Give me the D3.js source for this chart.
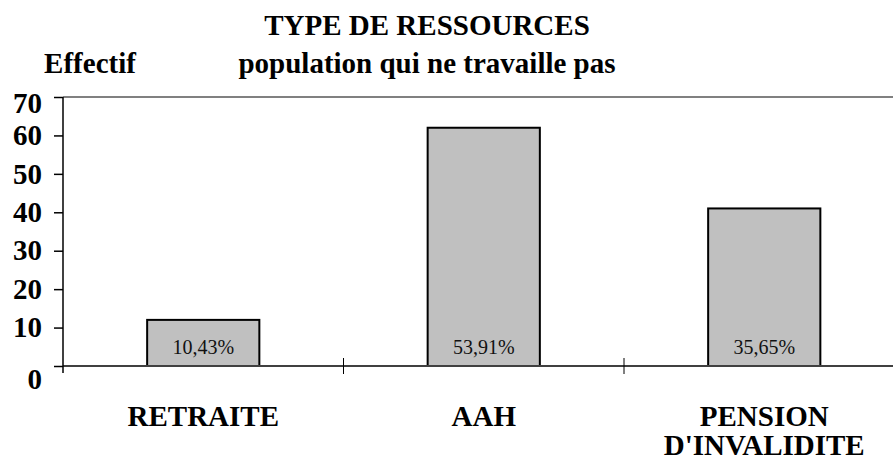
<!DOCTYPE html>
<html>
<head>
<meta charset="utf-8">
<script src="https://cdn.jsdelivr.net/npm/d3@7"></script>
<style>
  body { margin: 0; background: #fff; }
</style>
</head>
<body>
<svg id="chart" width="893" height="466"></svg>
<script>
const categories = [["RETRAITE"], ["AAH"], ["PENSION", "D'INVALIDITE"]];
const values = [12, 62, 41];
const pct_labels = ["10,43%", "53,91%", "35,65%"];
const y_ticks = [0, 10, 20, 30, 40, 50, 60, 70];

const serif = "Liberation Serif";
const big = "29px";
const left = 63;
const base_y = 366;
const top_y = 97;

const svg = d3.select("#chart").style("font-family", serif);

const x = d3.scaleBand()
    .domain(d3.range(categories.length))
    .range([left, 904.5])
    .padding(0);
const y = d3.scaleLinear()
    .domain([0, 70])
    .range([base_y, top_y]);

// titles
function bold_text(tx, ty, str) {
    return svg.append("text")
        .attr("x", tx).attr("y", ty)
        .attr("text-anchor", "middle")
        .style("font-family", serif)
        .style("font-weight", "bold")
        .style("font-size", big)
        .text(str);
}
bold_text(427, 35, "TYPE DE RESSOURCES");
bold_text(427, 73, "population qui ne travaille pas");
bold_text(90, 73, "Effectif");

// top frame line
svg.append("line")
    .attr("x1", left).attr("x2", 893)
    .attr("y1", y(70)).attr("y2", y(70))
    .attr("stroke", "#808080")
    .attr("stroke-width", 2);

// bars
const bw = x.bandwidth() * 0.4;
svg.selectAll("rect.bar")
    .data(values)
    .enter()
    .append("rect")
    .attr("class", "bar")
    .attr("x", (d, i) => x(i) + (x.bandwidth() - bw) / 2)
    .attr("y", d => y(d))
    .attr("width", bw)
    .attr("height", d => y(0) - y(d))
    .attr("fill", "#c0c0c0")
    .attr("stroke", "#000")
    .attr("stroke-width", 2);

// percentages inside bars
svg.selectAll("text.pct")
    .data(pct_labels)
    .enter()
    .append("text")
    .attr("class", "pct")
    .attr("x", (d, i) => x(i) + x.bandwidth() / 2)
    .attr("y", y(0) - 12)
    .attr("text-anchor", "middle")
    .style("font-family", serif)
    .style("font-size", "20px")
    .attr("fill", "#111")
    .text(d => d);

// baseline
svg.append("line")
    .attr("x1", left).attr("x2", 893)
    .attr("y1", y(0)).attr("y2", y(0))
    .attr("stroke", "#404040")
    .attr("stroke-width", 2);

// category separators
svg.selectAll("line.sep")
    .data(d3.range(1, categories.length))
    .enter()
    .append("line")
    .attr("class", "sep")
    .attr("x1", i => x(i)).attr("x2", i => x(i))
    .attr("y1", y(0) - 8).attr("y2", y(0) + 8)
    .attr("stroke", "#000")
    .attr("stroke-width", 1);

// y axis
const yAxis = svg.append("g")
    .attr("transform", `translate(${left},0)`)
    .call(d3.axisLeft(y).tickValues(y_ticks).tickSize(9).tickPadding(12));
yAxis.select(".domain")
    .attr("d", `M0,${top_y}V${base_y + 7}`)
    .attr("stroke", "#000")
    .attr("stroke-width", 1.5);
yAxis.selectAll(".tick line").attr("stroke", "#000").attr("stroke-width", 1.5);
yAxis.selectAll(".tick text")
    .style("font-family", serif)
    .style("font-weight", "bold")
    .style("font-size", big)
    .attr("fill", "#000")
    .attr("dy", d => d === 0 ? "0.78em" : d === 70 ? "0.52em" : "0.32em");

// category labels
const cat = svg.selectAll("text.cat")
    .data(categories)
    .enter()
    .append("text")
    .attr("class", "cat")
    .attr("text-anchor", "middle")
    .style("font-family", serif)
    .style("font-weight", "bold")
    .style("font-size", big);
cat.selectAll("tspan")
    .data((d, i) => d.map(t => ({t: t, i: i})))
    .enter()
    .append("tspan")
    .attr("x", d => x(d.i) + x.bandwidth() / 2)
    .attr("y", (d, j) => (j === 0 ? 426 : 455))
    .text(d => d.t);
</script>
</body>
</html>
